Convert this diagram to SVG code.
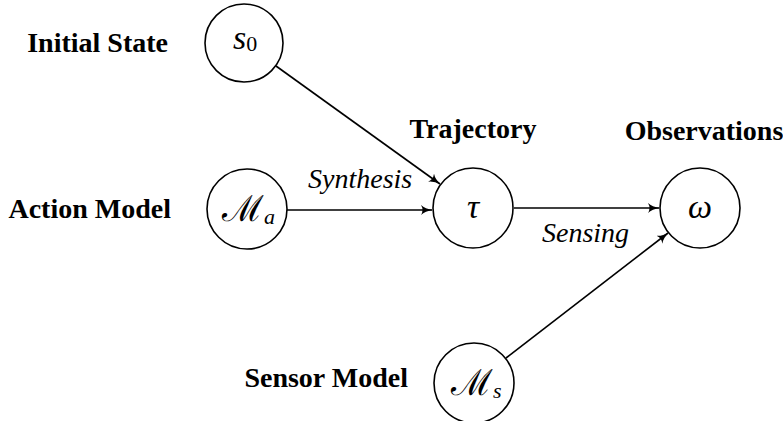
<svg xmlns="http://www.w3.org/2000/svg" width="783" height="421" viewBox="0 0 783 421">
<defs>
<marker id="ah" viewBox="0 0 12 10" refX="11" refY="5" markerWidth="12" markerHeight="10" markerUnits="userSpaceOnUse" orient="auto">
<path d="M0,0 Q4,4 12,5 Q4,6 0,10 Q3,5 0,0 Z" fill="#000"/>
</marker>
<style>
.node{fill:#fff;stroke:#000;stroke-width:1.6}
.lbl{font-family:"Liberation Serif","Times New Roman",serif;font-weight:bold;font-size:28px;fill:#000}
.el{font-family:"Liberation Serif","Times New Roman",serif;font-style:italic;font-size:28px;fill:#000}
.m{font-family:"Liberation Serif","DejaVu Serif",serif;font-style:italic;font-size:34px;fill:#000}
.cal{font-family:"DejaVu Serif","Liberation Serif",serif;font-style:normal;font-size:36px}
.sub{font-size:22px}
.edge{stroke:#000;stroke-width:1.6;fill:none;marker-end:url(#ah)}
</style>
</defs>
<rect width="783" height="421" fill="#fff"/>
<g id="connectors">
<line class="edge" x1="276" y1="66" x2="440" y2="184"/>
<line class="edge" x1="287" y1="210" x2="432" y2="210"/>
<line class="edge" x1="514" y1="208" x2="659" y2="208"/>
<line class="edge" x1="506" y1="358" x2="668" y2="233"/>
<text class="el" x="308" y="188">Synthesis</text>
<text class="el" x="542" y="242">Sensing</text>
</g>
<g id="s0">
<circle class="node" cx="244" cy="43" r="39"/>
<text class="m" x="233" y="49">s<tspan class="sub" font-style="normal" dy="2">0</tspan></text>
<text class="lbl" x="168" y="52" text-anchor="end">Initial State</text>
</g>
<g id="Ma">
<circle class="node" cx="247" cy="209" r="40"/>
<text class="m" x="222" y="221"><tspan class="cal">ℳ</tspan><tspan class="sub" dy="3">a</tspan></text>
<text class="lbl" x="171" y="218" text-anchor="end">Action Model</text>
</g>
<g id="tau">
<circle class="node" cx="473" cy="208" r="40"/>
<text class="m" x="473" y="218" text-anchor="middle">τ</text>
<text class="lbl" x="473" y="138" text-anchor="middle">Trajectory</text>
</g>
<g id="omega">
<circle class="node" cx="700" cy="208" r="40"/>
<text class="m" x="700" y="218" text-anchor="middle">ω</text>
<text class="lbl" x="704" y="140" text-anchor="middle">Observations</text>
</g>
<g id="Ms">
<circle class="node" cx="474" cy="383" r="40"/>
<text class="m" x="451" y="395"><tspan class="cal">ℳ</tspan><tspan class="sub" dy="3">s</tspan></text>
<text class="lbl" x="408" y="387" text-anchor="end">Sensor Model</text>
</g>
</svg>
